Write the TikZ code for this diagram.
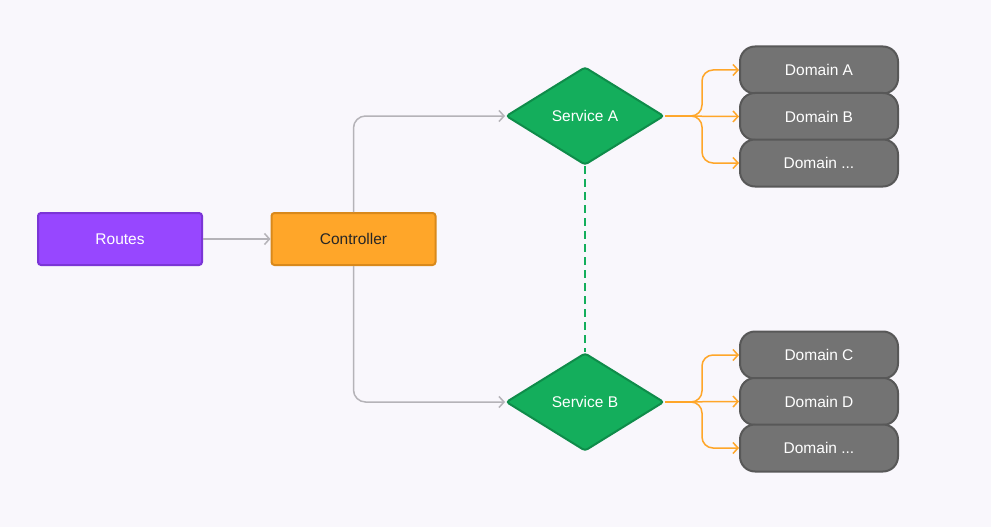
\documentclass[tikz,border=0pt]{standalone}
\usepackage{fontspec}
\setmainfont{Liberation Sans}
\usetikzlibrary{shapes.geometric,arrows.meta}

\definecolor{bgcol}{HTML}{F9F7FC}
\definecolor{routefill}{HTML}{9747FF}
\definecolor{routeline}{HTML}{7B35D6}
\definecolor{ctrlfill}{HTML}{FFA629}
\definecolor{ctrlline}{HTML}{D9891B}
\definecolor{svcfill}{HTML}{14AE5C}
\definecolor{svcline}{HTML}{0F8C4A}
\definecolor{domfill}{HTML}{737373}
\definecolor{domline}{HTML}{585858}
\definecolor{graylink}{HTML}{B5B3B8}

\tikzset{
	layerbox/.style={rectangle, rounded corners=3pt, line width=2pt, minimum width=164pt, minimum height=52pt, font=\fontsize{15.5}{18}\selectfont},
	servicebox/.style={diamond, inner sep=0pt, minimum width=158pt, minimum height=98pt, rounded corners=3pt, fill=svcfill, draw=svcline, line width=2pt, text=white, font=\fontsize{15.5}{18}\selectfont},
	dombox/.style={rectangle, rounded corners=15pt, minimum width=158pt, minimum height=47pt, fill=domfill, draw=domline, line width=2pt, text=white, font=\fontsize{15.5}{18}\selectfont},
	graylink/.style={draw=graylink, line width=1.5pt, rounded corners=12pt, -{Straight Barb[length=5pt,width=11pt]}},
	orangelink/.style={draw=ctrlfill, line width=1.5pt, rounded corners=11pt, -{Straight Barb[length=5pt,width=11pt]}}
}

\begin{document}
\begin{tikzpicture}[x=1pt,y=-1pt]
	\fill[bgcol] (0,0) rectangle (991,527);
	\useasboundingbox (0,0) rectangle (991,527);

	\node[layerbox, fill=routefill, draw=routeline, text=white] (routes) at (120,239) {Routes};
	\node[layerbox, fill=ctrlfill, draw=ctrlline, text=black!85] (controller) at (353.5,239) {Controller};

	\node[servicebox] (serviceA) at (585,116) {Service A};
	\node[servicebox] (serviceB) at (585,402) {Service B};

	\node[dombox] (domainA) at (819,70) {Domain A};
	\node[dombox] (domainB) at (819,116.5) {Domain B};
	\node[dombox] (domainAx) at (819,163) {Domain ...};

	\node[dombox] (domainC) at (819,355) {Domain C};
	\node[dombox] (domainD) at (819,401.5) {Domain D};
	\node[dombox] (domainBx) at (819,448) {Domain ...};

	\draw[graylink] (routes) -- (controller);
	\draw[graylink] (controller.north) |- (serviceA.west);
	\draw[graylink] (controller.south) |- (serviceB.west);

	\draw[svcfill, line width=2pt, dash pattern=on 8pt off 5pt] (serviceA.south) -- (serviceB.north);

	\draw[orangelink] (serviceA.east) -- (702,116) |- (domainA.west);
	\draw[orangelink] (serviceA.east) -- (domainB.west);
	\draw[orangelink] (serviceA.east) -- (702,116) |- (domainAx.west);

	\draw[orangelink] (serviceB.east) -- (702,402) |- (domainC.west);
	\draw[orangelink] (serviceB.east) -- (domainD.west);
	\draw[orangelink] (serviceB.east) -- (702,402) |- (domainBx.west);
\end{tikzpicture}
\end{document}
